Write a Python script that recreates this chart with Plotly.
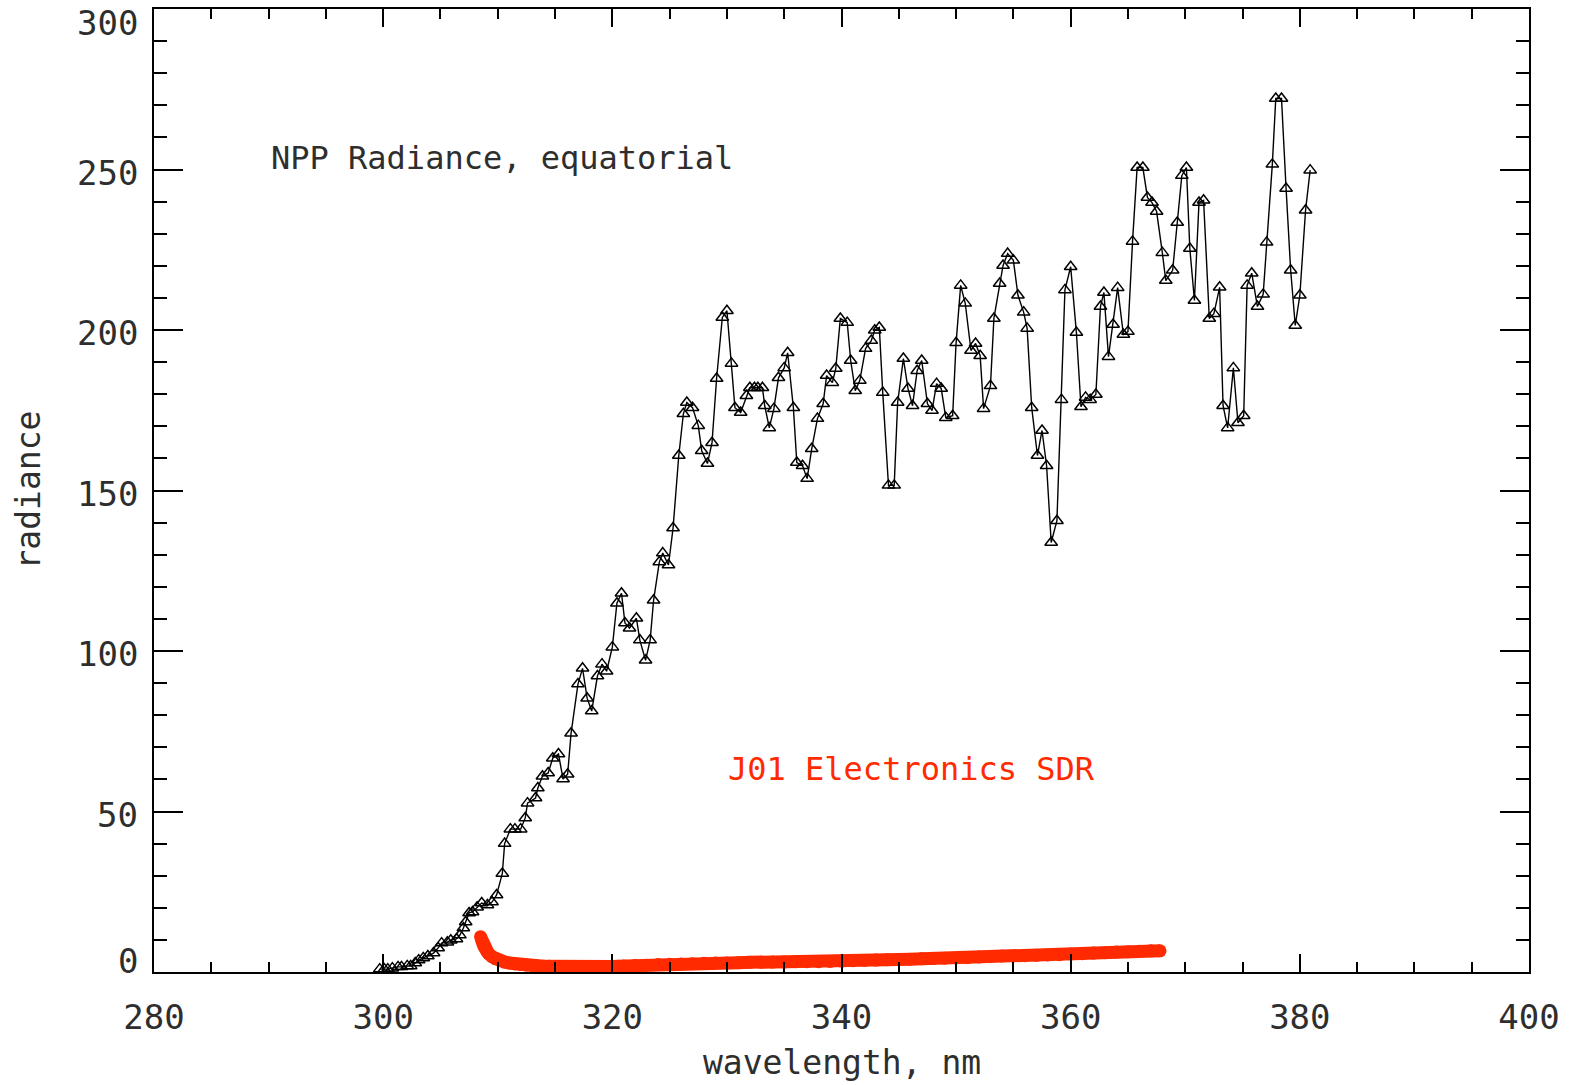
import plotly.graph_objects as go

# NPP radiance (black triangles)
npp_wavelength = [299.7,300.1,300.4,300.8,301.3,301.6,302.1,302.4,302.8,303.1,303.5,303.9,304.4,304.8,305.1,305.6,305.9,306.4,306.7,307.0,
 307.2,307.5,307.8,308.2,308.6,309.1,309.5,309.9,310.4,310.6,311.1,311.5,312.0,312.4,312.6,313.3,313.5,313.9,314.4,314.8,
 315.3,315.7,316.1,316.4,317.0,317.4,317.8,318.2,318.7,319.1,319.5,320.0,320.4,320.8,321.1,321.5,322.1,322.4,322.9,323.3,
 323.6,324.1,324.4,324.9,325.3,325.8,326.2,326.5,327.0,327.5,327.8,328.3,328.7,329.1,329.6,330.0,330.4,330.7,331.2,331.7,
 332.0,332.4,332.7,333.1,333.3,333.7,334.1,334.5,335.0,335.3,335.8,336.1,336.6,337.0,337.4,337.9,338.4,338.7,339.2,339.5,
 339.9,340.5,340.8,341.2,341.6,342.1,342.6,342.9,343.3,343.6,344.1,344.6,344.9,345.4,345.8,346.2,346.6,347.0,347.5,347.9,
 348.3,348.7,349.1,349.7,350.0,350.4,350.8,351.3,351.7,352.1,352.4,353.0,353.3,353.8,354.1,354.5,355.0,355.4,355.9,356.2,
 356.6,357.1,357.5,357.9,358.3,358.8,359.2,359.5,360.0,360.5,360.9,361.3,361.7,362.2,362.6,362.9,363.3,363.7,364.1,364.6,
 365.0,365.4,365.8,366.3,366.7,367.1,367.5,368.0,368.3,368.9,369.3,369.7,370.1,370.4,370.8,371.2,371.6,372.1,372.5,373.0,
 373.3,373.7,374.2,374.6,375.1,375.4,375.8,376.3,376.8,377.1,377.6,377.9,378.4,378.8,379.2,379.6,380.0,380.5,380.9]
npp_radiance = [0.9,0.9,0.9,1.2,1.6,1.6,1.9,1.9,2.8,3.7,4.4,5.0,5.9,7.5,9.0,9.3,9.9,10.3,11.5,13.7,
 15.6,18.4,18.7,20.2,21.5,20.9,21.8,24.0,30.7,40.0,44.5,44.5,44.5,48.0,52.6,54.2,57.3,61.0,62.0,66.6,
 67.9,60.1,61.6,74.4,89.7,94.6,85.3,81.3,92.2,95.9,93.7,101.2,114.9,118.0,108.7,107.1,110.2,103.4,97.1,103.4,
 115.8,127.7,130.5,126.8,138.3,160.9,173.9,177.4,175.8,170.2,162.4,158.4,164.9,184.9,203.9,206.0,189.6,175.8,174.3,179.5,
 182.0,182.0,182.0,182.0,176.4,169.5,175.5,185.1,188.2,192.9,175.8,158.7,157.7,153.7,163.0,172.4,177.0,185.8,183.6,188.0,
 203.6,202.3,190.5,181.1,184.3,194.2,196.7,199.9,200.8,180.5,151.6,151.6,177.4,191.1,181.8,176.4,187.3,190.5,177.0,174.9,
 183.3,181.8,172.7,173.3,196.0,213.9,208.3,193.6,195.8,192.0,175.5,182.6,203.6,214.5,220.1,223.8,221.7,210.8,205.5,200.5,
 175.8,160.9,168.7,157.7,133.8,140.6,178.3,212.5,219.7,199.2,176.1,179.0,178.3,179.9,207.3,211.7,191.7,201.7,213.2,198.6,
 199.5,227.6,250.6,250.6,241.3,239.7,236.9,224.1,215.4,218.6,233.5,248.1,250.6,225.4,209.2,239.7,240.4,203.6,205.1,213.3,
 176.4,169.5,188.2,171.1,173.3,213.9,217.7,207.3,211.1,227.3,251.6,272.1,272.1,244.1,218.6,201.4,210.8,237.3,249.8]

# J01 electronics SDR (red)
j01_wavelength = [308.5,308.6,308.7,308.8,309.0,309.2,309.5,309.8,310.2,310.6,311.0,311.5,312.0,312.5,313.0,313.5,314.0,
 314.5,315.0,316.0,317.0,318.0,319.0,320.0,320.5,321.0,322.0,323.0,324.0,325.0,326.0,327.0,328.0,329.0,330.0,331.0,
 332.0,333.0,334.0,335.0,336.0,337.0,338.0,339.0,340.0,341.0,342.0,343.0,344.0,345.0,346.0,347.0,348.0,349.0,350.0,
 351.0,352.0,353.0,354.0,355.0,356.0,357.0,358.0,359.0,360.0,361.0,362.0,363.0,364.0,365.0,366.0,367.0,367.8]
j01_signal = [11.0,9.8,8.7,7.8,6.6,5.7,4.8,4.1,3.5,3.1,2.8,2.5,2.3,2.1,2.0,1.9,1.8,
 1.8,1.7,1.7,1.7,1.7,1.7,1.7,1.8,1.9,2.0,2.1,2.3,2.4,2.5,2.6,2.7,2.8,2.8,2.9,
 3.0,3.0,3.1,3.1,3.2,3.2,3.2,3.3,3.4,3.5,3.6,3.7,3.8,3.9,4.0,4.1,4.2,4.3,4.4,
 4.5,4.7,4.8,5.0,5.0,5.1,5.2,5.3,5.4,5.6,5.7,5.9,6.0,6.2,6.3,6.5,6.6,6.6]

x_ticks = [280, 300, 320, 340, 360, 380, 400]
y_ticks = [0, 50, 100, 150, 200, 250, 300]
y_tick_labels = ["0", "50", "100", "150", "200", "250", "300"]
# vertical nudge of each y tick label (pixels, + = up), as in the original plot
y_label_nudge = [11, -3, -3, -3, -3, -3, -14]

assert len(npp_wavelength) == len(npp_radiance)
assert len(j01_wavelength) == len(j01_signal)

FONT = "DejaVu Sans Mono"
RED = "#ff2a00"
TXT = "#2e2e2e"

fig = go.Figure()
fig.add_trace(go.Scatter(
    x=j01_wavelength, y=j01_signal, mode="lines+markers",
    line=dict(color=RED, width=13),
    marker=dict(symbol="circle", size=13, color=RED),
    showlegend=False))
fig.add_trace(go.Scatter(
    x=npp_wavelength, y=npp_radiance, mode="lines+markers",
    line=dict(color="black", width=1.4),
    marker=dict(symbol="triangle-up-open", size=11, color="black", line=dict(width=1.5)),
    showlegend=False))

fig.add_annotation(x=290.0, y=253.7, xref="x", yref="y", text="NPP Radiance, equatorial",
                   showarrow=False, xanchor="left", yanchor="middle",
                   font=dict(family=FONT, size=32, color=TXT))
fig.add_annotation(x=329.9, y=63.2, xref="x", yref="y", text="J01 Electronics SDR",
                   showarrow=False, xanchor="left", yanchor="middle",
                   font=dict(family=FONT, size=32, color=RED))
fig.add_annotation(x=0.5, y=0, xref="paper", yref="paper", yshift=-90, text="wavelength, nm",
                   showarrow=False, xanchor="center", yanchor="middle",
                   font=dict(family=FONT, size=33, color=TXT))
fig.add_annotation(x=0, y=0.5, xref="paper", yref="paper", xshift=-126, text="radiance",
                   textangle=-90, showarrow=False, xanchor="center", yanchor="middle",
                   font=dict(family=FONT, size=33, color=TXT))

for val, lab, nudge in zip(y_ticks, y_tick_labels, y_label_nudge):
    fig.add_annotation(x=0, y=val, xref="paper", yref="y", xshift=-14, yshift=nudge,
                       text=lab, showarrow=False, xanchor="right", yanchor="middle",
                       font=dict(family=FONT, size=34, color=TXT))

fig.update_xaxes(range=[280, 400], tickvals=x_ticks, ticktext=[str(v) for v in x_ticks],
                 showgrid=False, zeroline=False, showline=True, linecolor="black", linewidth=1.5,
                 mirror="allticks", ticks="inside", ticklen=18, tickwidth=1.5, tickcolor="black",
                 minor=dict(dtick=5, tick0=280, ticks="inside", ticklen=10, tickwidth=1.5,
                            tickcolor="black", showgrid=False),
                 ticklabelstandoff=14,
                 tickfont=dict(family=FONT, size=34, color=TXT))
fig.update_yaxes(range=[0, 300], tickvals=y_ticks, showticklabels=False,
                 showgrid=False, zeroline=False, showline=True, linecolor="black", linewidth=1.5,
                 mirror="allticks", ticks="inside", ticklen=29, tickwidth=1.5, tickcolor="black",
                 minor=dict(dtick=10, tick0=0, ticks="inside", ticklen=13, tickwidth=1.5,
                            tickcolor="black", showgrid=False))

fig.update_layout(width=1574, height=1085, paper_bgcolor="white", plot_bgcolor="white",
                  margin=dict(l=154, r=45, t=9, b=113, autoexpand=False),
                  showlegend=False)

fig.write_html("out.html")
